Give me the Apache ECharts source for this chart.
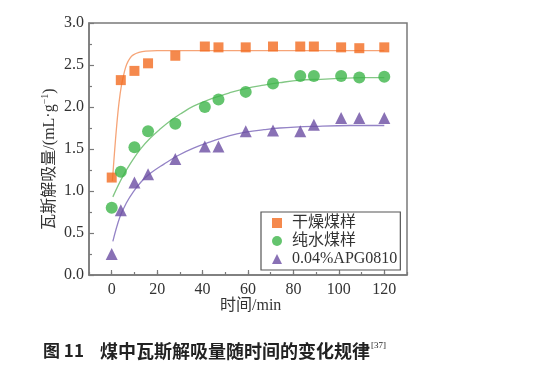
<!DOCTYPE html>
<html><head><meta charset="utf-8">
<script src="https://cdn.jsdelivr.net/npm/echarts@6/dist/echarts.min.js"></script>
<style>html,body{margin:0;padding:0;background:#fff}#c{width:533px;height:365px}</style>
</head><body><div id="c"></div>
<script>
// ---- data ----
var timeMin = [0, 4, 10, 16, 28, 41, 47, 59, 71, 83, 89, 101, 109, 120];
var drySample = [1.16, 2.32, 2.43, 2.52, 2.61, 2.72, 2.71, 2.71, 2.72, 2.72, 2.72, 2.71, 2.70, 2.71];
var waterSample = [0.80, 1.23, 1.52, 1.71, 1.80, 2.00, 2.09, 2.18, 2.28, 2.37, 2.37, 2.37, 2.35, 2.36];
var apgSample = [0.25, 0.77, 1.10, 1.20, 1.38, 1.53, 1.53, 1.71, 1.72, 1.71, 1.79, 1.87, 1.87, 1.87];

// fitted curves
var fitDryX = [0.3, 1.2, 2.2, 3.2, 4.3, 5.5, 6.6, 8, 9.5, 12, 15, 20, 30, 60, 90, 120];
var fitDryY = [1.12, 1.45, 1.78, 2.05, 2.26, 2.41, 2.51, 2.58, 2.62, 2.65, 2.665, 2.67, 2.67, 2.67, 2.67, 2.67];
var fitWaterX = [0.5, 5, 9.5, 13, 17, 21, 26, 31, 36, 44, 52, 59, 67, 74, 83, 92, 100, 110, 120];
var fitWaterY = [0.93, 1.18, 1.38, 1.51, 1.63, 1.73, 1.84, 1.93, 2.01, 2.10, 2.17, 2.22, 2.26, 2.29, 2.32, 2.33, 2.34, 2.35, 2.35];
var fitApgX = [0.5, 3.6, 6.5, 9.5, 13, 17, 23, 29, 36, 44, 52, 59, 67, 74, 90, 105, 120];
var fitApgY = [0.40, 0.69, 0.86, 0.99, 1.11, 1.21, 1.32, 1.42, 1.51, 1.59, 1.66, 1.70, 1.73, 1.75, 1.77, 1.78, 1.78];

var seriesNames = ['干燥煤样', '纯水煤样', '0.04%APG0810'];
var xTickValues = [0, 20, 40, 60, 80, 100, 120];

function pairs(xs, ys) { return xs.map(function (x, i) { return [x, ys[i]]; }); }

var serif = '"Liberation Serif", "Times New Roman", "Noto Sans CJK SC", serif';
var axisGray = '#7a7a7a';
var cOrange = '#F36B21', cGreen = '#3DB54A', cPurple = '#6B4DA3';

var chart = echarts.init(document.getElementById('c'), null, { renderer: 'canvas' });
chart.setOption({
  animation: false,
  backgroundColor: '#fff',
  grid: { left: 89, top: 23, right: 126, bottom: 90, show: true, borderColor: axisGray, borderWidth: 1.5, backgroundColor: 'transparent' },
  xAxis: [{
    type: 'value', min: -10, max: 130,
    axisLine: { show: true, onZero: false, lineStyle: { color: axisGray, width: 1.5 } },
    axisTick: { show: true, inside: true, length: 5, customValues: xTickValues, lineStyle: { color: axisGray, width: 1.2 } },
    axisLabel: { customValues: xTickValues, color: '#333', fontFamily: serif, fontSize: 16, margin: 7 },
    splitLine: { show: false }
  }, {
    type: 'value', min: -10, max: 130, interval: 10, position: 'bottom',
    axisLine: { show: false, onZero: false },
    axisTick: { show: true, inside: true, length: 3, lineStyle: { color: axisGray, width: 1.2 } },
    axisLabel: { show: false },
    splitLine: { show: false }
  }],
  yAxis: {
    type: 'value', min: 0, max: 3, interval: 0.5,
    axisLine: { show: true, onZero: false, lineStyle: { color: axisGray, width: 1.5 } },
    axisTick: { show: true, inside: true, length: 5, lineStyle: { color: axisGray, width: 1.2 } },
    minorTick: { show: true, splitNumber: 2, length: 3, lineStyle: { color: axisGray, width: 1.2 } },
    axisLabel: { color: '#333', fontFamily: serif, fontSize: 16, margin: 5, formatter: function (v) { return v.toFixed(1); } },
    splitLine: { show: false }
  },
  legend: {
    orient: 'vertical', left: 261, top: 212,
    data: seriesNames,
    backgroundColor: '#fff',
    borderColor: '#555', borderWidth: 1.2,
    padding: [3, 3, 3, 11],
    itemGap: 2, itemWidth: 10, itemHeight: 10,
    textStyle: { fontFamily: serif, fontSize: 16, color: '#333', lineHeight: 16, padding: [0, 0, 0, 5] }
  },
  series: [
    { type: 'line', xAxisIndex: 0, data: pairs(fitDryX, fitDryY), smooth: 0.4, showSymbol: false, symbol: 'none', lineStyle: { color: '#F6A477', width: 1.3 }, silent: true, z: 1 },
    { type: 'line', xAxisIndex: 0, data: pairs(fitWaterX, fitWaterY), smooth: 0.4, showSymbol: false, symbol: 'none', lineStyle: { color: '#82C784', width: 1.3 }, silent: true, z: 1 },
    { type: 'line', xAxisIndex: 0, data: pairs(fitApgX, fitApgY), smooth: 0.4, showSymbol: false, symbol: 'none', lineStyle: { color: '#9483C6', width: 1.3 }, silent: true, z: 1 },
    { name: seriesNames[0], type: 'scatter', xAxisIndex: 0, data: pairs(timeMin, drySample), symbol: 'rect', symbolSize: 10, itemStyle: { color: cOrange }, z: 3 },
    { name: seriesNames[1], type: 'scatter', xAxisIndex: 0, data: pairs(timeMin, waterSample), symbol: 'circle', symbolSize: 12, itemStyle: { color: cGreen }, z: 3 },
    { name: seriesNames[2], type: 'scatter', xAxisIndex: 0, data: pairs(timeMin, apgSample), symbol: 'triangle', symbolSize: 12, itemStyle: { color: cPurple }, z: 3 }
  ],
  graphic: [
    { type: 'text', left: 220, top: 298,
      style: { text: '时间/min', font: '16px ' + serif, fill: '#333' } },
    { type: 'text', x: 50, y: 159, rotation: Math.PI / 2,
      style: { text: '瓦斯解吸量/(mL·g{sup|−1})', align: 'center', verticalAlign: 'middle',
        font: '16px ' + serif, fill: '#333',
        rich: { sup: { fontSize: 10, fontFamily: serif, fill: '#333', verticalAlign: 'top', padding: [0, 0, 9, 0] } } } },
    { type: 'text', left: 43, top: 341,
      style: { text: '{a|图 11}{b|煤中瓦斯解吸量随时间的变化规律}{s|[37]}',
        rich: {
          a: { fontSize: 17, fontWeight: 'bold', fontFamily: '"Noto Sans CJK SC", sans-serif', fill: '#222', width: 57 },
          b: { fontSize: 18, fontWeight: 'bold', fontFamily: '"Noto Sans CJK SC", sans-serif', fill: '#222' },
          s: { fontSize: 9, fontFamily: serif, fill: '#222', verticalAlign: 'top', padding: [0, 0, 11, 1] }
        } } }
  ]
});
</script></body></html>
